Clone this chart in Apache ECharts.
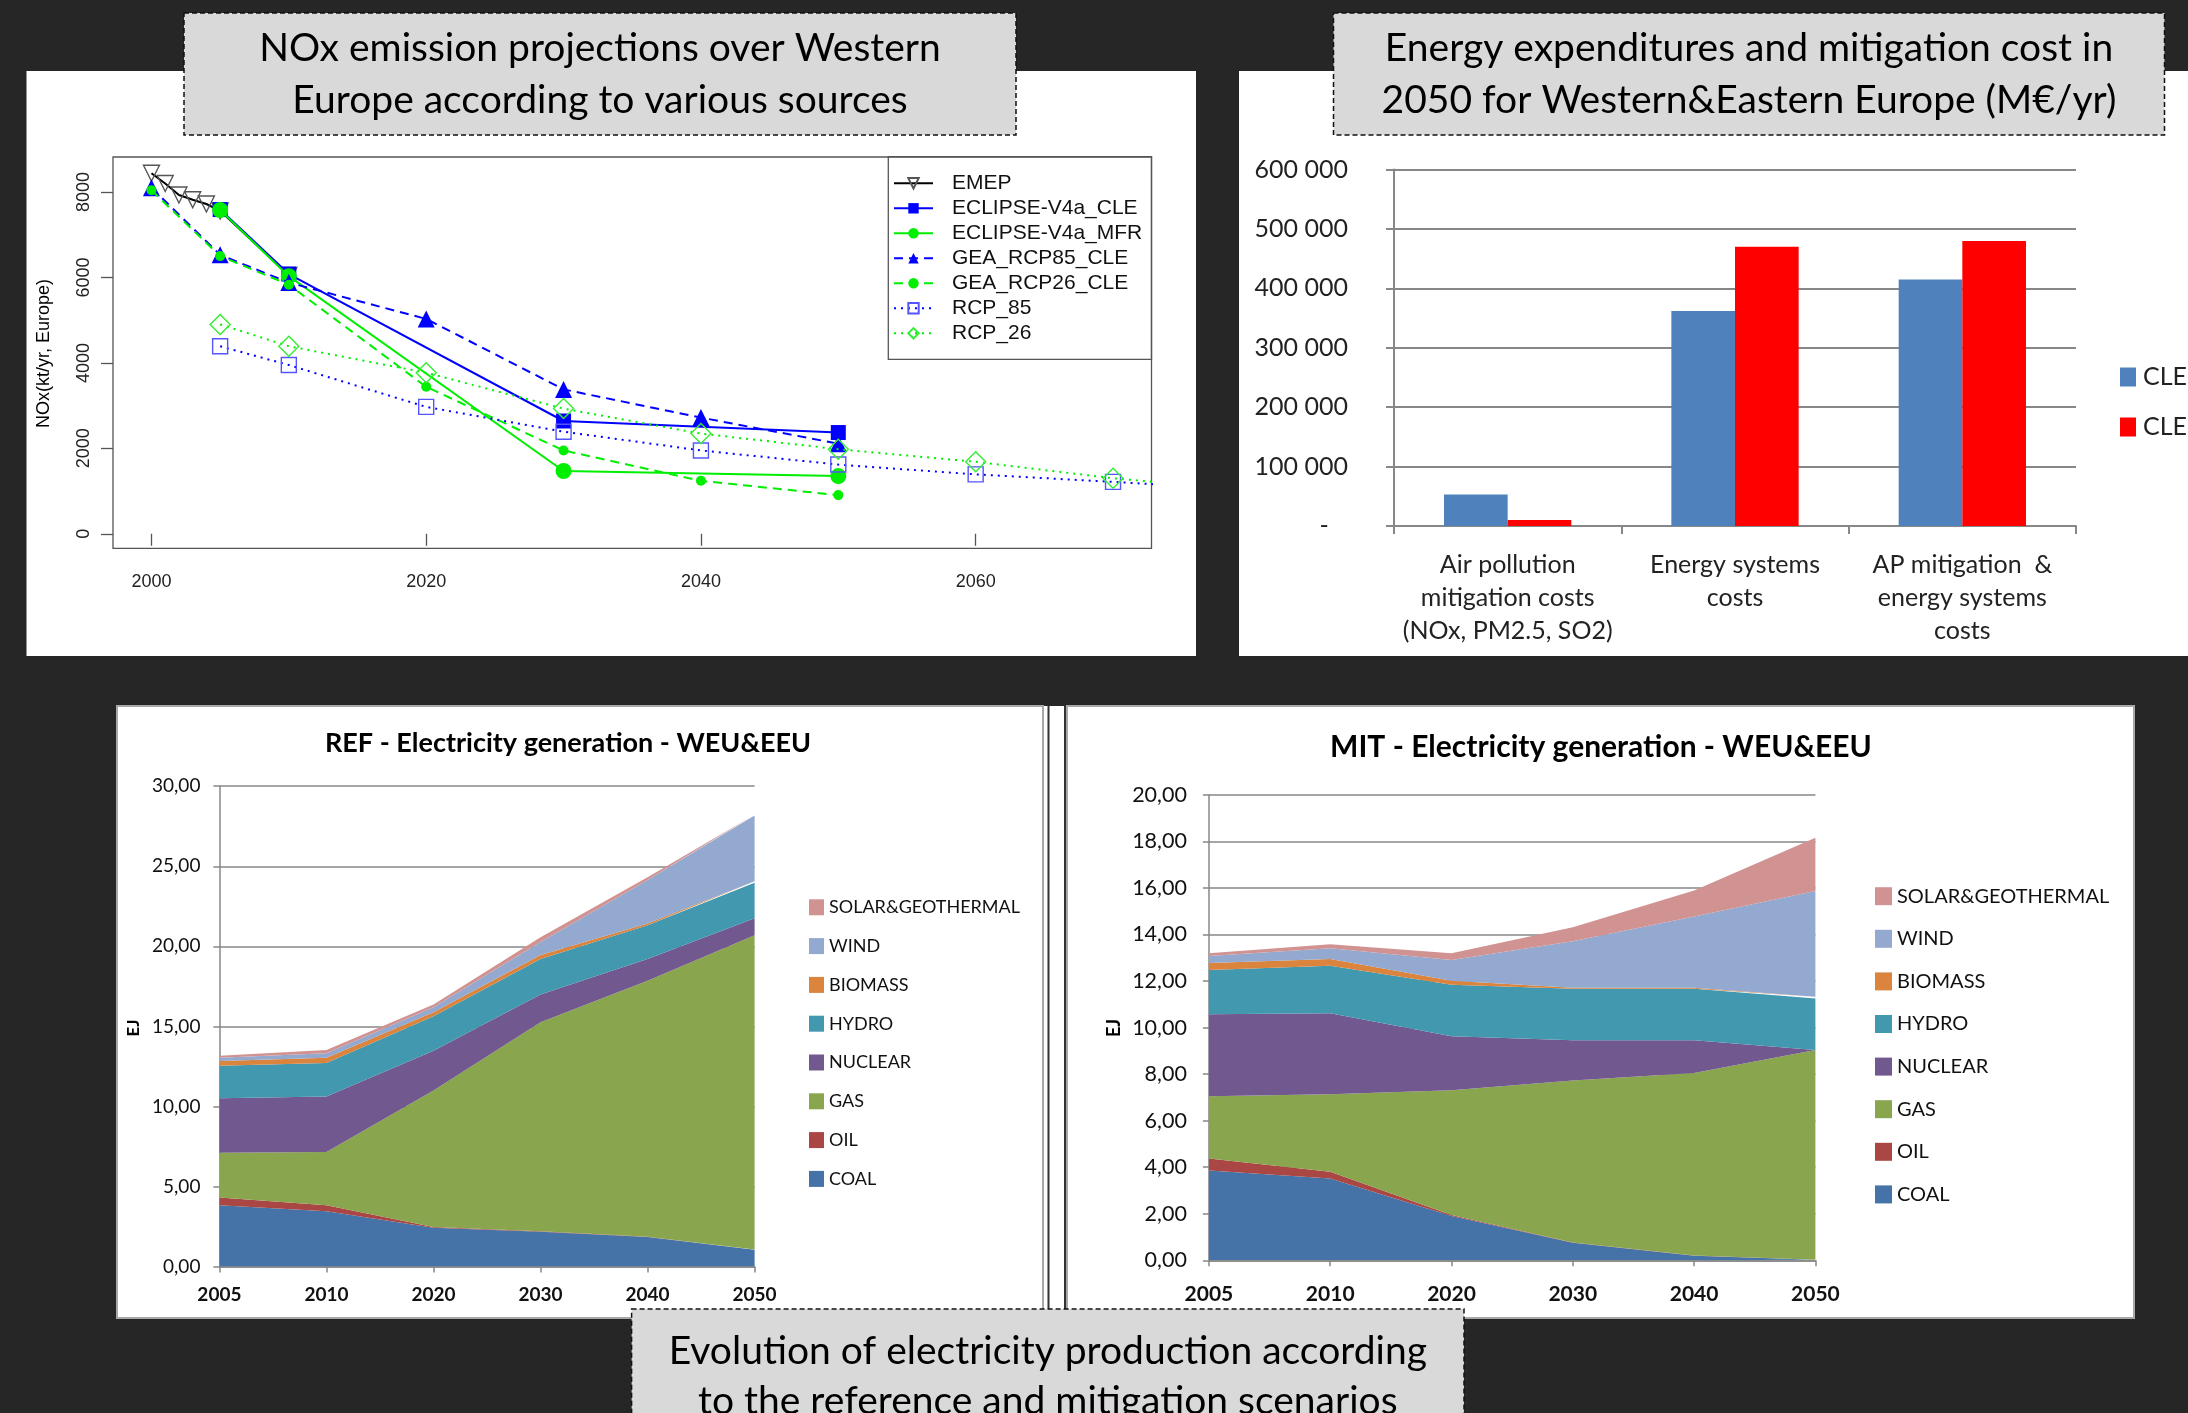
<!DOCTYPE html>
<html>
<head>
<meta charset="utf-8">
<script src="https://cdn.jsdelivr.net/npm/echarts@6/dist/echarts.min.js"></script>
<style>
  html, body { margin: 0; padding: 0; background: #262626; }
  #main { width: 2188px; height: 1413px; }
</style>
</head>
<body>
<div id="main"></div>
<script>
// ---------- NOx emission projections, Western Europe (kt/yr) ----------
const noxNames = ['EMEP', 'ECLIPSE-V4a_CLE', 'ECLIPSE-V4a_MFR', 'GEA_RCP85_CLE', 'GEA_RCP26_CLE', 'RCP_85', 'RCP_26'];
const emepYears = [2000, 2001, 2002, 2003, 2004, 2005, 2010];
const emepNox = [8440, 8200, 7930, 7820, 7720, 7560, 6050];
const eclipseYears = [2005, 2010, 2030, 2050];
const eclipseCle = [7590, 6080, 2640, 2370];
const eclipseMfr = [7580, 6030, 1470, 1350];
const geaYears = [2000, 2005, 2010, 2020, 2030, 2040, 2050];
const geaRcp85 = [8100, 6530, 5880, 5030, 3380, 2720, 2110];
const geaRcp26 = [8040, 6500, 5830, 3440, 1950, 1240, 905];
const rcpYears = [2005, 2010, 2020, 2030, 2040, 2050, 2060, 2070, 2080];
const rcp85 = [4390, 3950, 2970, 2390, 1950, 1620, 1390, 1215, 1030];
const rcp26 = [4900, 4390, 3770, 2930, 2345, 1980, 1685, 1300, 1010];
const noxTickValues = [0, 2000, 4000, 6000, 8000];
const noxYearTicks = [2000, 2020, 2040, 2060];

// ---------- Energy expenditures and mitigation cost in 2050 (M€/yr) ----------
const costCategories = ['Air pollution\nmitigation costs\n(NOx, PM2.5, SO2)', 'Energy systems\ncosts', 'AP mitigation  &\nenergy systems\ncosts'];
const costNames = ['CLE', 'CLE '];
const costCle = [53000, 362000, 415000];
const costCleMfr = [10000, 470000, 480000];

// ---------- Electricity generation, WEU&EEU (EJ) ----------
const genYears = ['2005', '2010', '2020', '2030', '2040', '2050'];
const fuelNames = ['COAL', 'OIL', 'GAS', 'NUCLEAR', 'HYDRO', 'BIOMASS', 'WIND', 'SOLAR&GEOTHERMAL'];
// reference scenario
const refCoal    = [3.83, 3.46, 2.42, 2.17, 1.85, 1.06];
const refOil     = [0.49, 0.37, 0.06, 0.03, 0.02, 0.01];
const refGas     = [2.79, 3.33, 8.51, 13.06, 15.98, 19.62];
const refNuclear = [3.41, 3.46, 2.49, 1.73, 1.36, 1.06];
const refHydro   = [2.02, 2.10, 2.15, 2.22, 2.10, 2.22];
const refBiomass = [0.30, 0.32, 0.25, 0.25, 0.12, 0.10];
const refWind    = [0.20, 0.29, 0.32, 0.81, 2.72, 4.10];
const refSolar   = [0.12, 0.20, 0.17, 0.30, 0.17, 0.05];
// mitigation scenario
const mitCoal    = [3.86, 3.52, 1.90, 0.75, 0.20, 0.02];
const mitOil     = [0.51, 0.29, 0.05, 0.02, 0.01, 0.00];
const mitGas     = [2.68, 3.33, 5.36, 6.96, 7.84, 9.02];
const mitNuclear = [3.52, 3.48, 2.32, 1.73, 1.41, 0.00];
const mitHydro   = [1.90, 2.04, 2.21, 2.21, 2.21, 2.21];
const mitBiomass = [0.31, 0.29, 0.17, 0.04, 0.04, 0.08];
const mitWind    = [0.30, 0.46, 0.90, 2.00, 3.06, 4.54];
const mitSolar   = [0.12, 0.17, 0.29, 0.60, 1.12, 2.29];

const refStack = [refCoal, refOil, refGas, refNuclear, refHydro, refBiomass, refWind, refSolar];
const mitStack = [mitCoal, mitOil, mitGas, mitNuclear, mitHydro, mitBiomass, mitWind, mitSolar];

// ---------- styling ----------
const R_FONT = 'Liberation Sans';
const XL_FONT = 'Lato';
const GRID_GRAY = '#878787';
const fuelColors = ['#4572A7', '#AA4643', '#89A54E', '#71588F', '#4198AF', '#DB843D', '#93A9CF', '#D19392'];

const noxStyles = [
  { color: '#000000', dash: 'solid', symbol: 'triangle', rotate: 180, size: 16, open: true, edge: '#555' },
  { color: '#0000ff', dash: 'solid', symbol: 'rect', size: 15 },
  { color: '#00ee00', dash: 'solid', symbol: 'circle', size: 16 },
  { color: '#0000ff', dash: [9, 6], symbol: 'triangle', size: 17 },
  { color: '#00ee00', dash: [9, 6], symbol: 'circle', size: 10 },
  { color: '#0000ff', dash: [2, 5], symbol: 'rect', size: 15, open: true, edge: '#5555ff' },
  { color: '#00ee00', dash: [2, 5], symbol: 'diamond', size: 20, open: true, edge: '#33ee33' }
];
const noxData = [
  [emepYears, emepNox], [eclipseYears, eclipseCle], [eclipseYears, eclipseMfr],
  [geaYears, geaRcp85], [geaYears, geaRcp26], [rcpYears, rcp85], [rcpYears, rcp26]
];
const pairs = (xs, ys) => xs.map((x, i) => [x, ys[i]]);

const noxSeries = noxNames.map((name, i) => {
  const s = noxStyles[i];
  return {
    type: 'line', name, xAxisIndex: 0, yAxisIndex: 0,
    data: pairs(noxData[i][0], noxData[i][1]),
    symbol: s.symbol, symbolSize: s.size, symbolRotate: s.rotate || 0,
    showAllSymbol: true, clip: true,
    lineStyle: { color: s.color, width: 2, type: s.dash },
    itemStyle: s.open
      ? { color: 'rgba(255,255,255,0)', borderColor: s.edge, borderWidth: 1.4 }
      : { color: s.color, borderWidth: 0 },
    emphasis: { disabled: true }, z: 3 + i
  };
});

const plain = v => String(v);
const thousands = v => String(v).replace(/\B(?=(\d{3})+(?!\d))/g, ' ');
const commaDec = v => v.toFixed(2).replace('.', ',');

const costSeries = [costCle, costCleMfr].map((vals, i) => ({
  type: 'bar', name: costNames[i], xAxisIndex: 1, yAxisIndex: 1, data: vals,
  barGap: '0%', barCategoryGap: '44%',
  itemStyle: { color: i === 0 ? '#4F81BD' : '#FF0000' },
  emphasis: { disabled: true }
}));

function genSeries(stack, axis, stackId) {
  return fuelNames.map((name, i) => ({
    type: 'line', name, xAxisIndex: axis, yAxisIndex: axis, stack: stackId,
    data: stack[i], symbol: 'none', showSymbol: false,
    color: fuelColors[i],
    lineStyle: { width: 0 },
    areaStyle: { color: fuelColors[i], opacity: 1 },
    emphasis: { disabled: true }
  }));
}

function genXAxis(grid, fontSize, margin) {
  return {
    type: 'category', gridIndex: grid, data: genYears, boundaryGap: false,
    axisLine: { lineStyle: { color: GRID_GRAY, width: 1.5 } },
    axisTick: { show: true, length: 6, lineStyle: { color: GRID_GRAY, width: 1.5 } },
    axisLabel: { fontFamily: XL_FONT, fontWeight: 'bold', fontSize, color: '#111', margin, interval: 0 },
    splitLine: { show: false }
  };
}
function genYAxis(grid, max, interval, fontSize, margin) {
  return {
    type: 'value', gridIndex: grid, min: 0, max, interval,
    axisLine: { show: true, lineStyle: { color: GRID_GRAY, width: 1.5 } },
    axisTick: { show: true, length: 6, lineStyle: { color: GRID_GRAY, width: 1.5 } },
    axisLabel: { fontFamily: XL_FONT, fontSize, color: '#111', margin, formatter: commaDec },
    splitLine: { show: true, lineStyle: { color: GRID_GRAY, width: 1.5 } }
  };
}
function genLegend(left, top, boxW, boxH, fontSize, gap) {
  return {
    orient: 'vertical', left, top, padding: 0, icon: 'rect',
    itemWidth: boxW, itemHeight: boxH, itemGap: gap, selectedMode: false,
    data: fuelNames.slice().reverse(),
    textStyle: { fontFamily: XL_FONT, fontSize, color: '#111', lineHeight: fontSize + 1 }
  };
}

// ---------- decorations ----------
const graphics = [];
function rect(x, y, w, h, fill, stroke, z, lineWidth) {
  graphics.push({ type: 'rect', shape: { x, y, width: w, height: h }, z: z || -5, silent: true,
    style: { fill, stroke: stroke || null, lineWidth: lineWidth || 0 } });
}
function vline(x, y1, y2, color, w) {
  graphics.push({ type: 'line', shape: { x1: x, y1, x2: x, y2 }, z: -4, silent: true,
    style: { stroke: color, lineWidth: w } });
}
function text(str, x, y, font, opts) {
  graphics.push(Object.assign({ type: 'text', x, y, z: 60, silent: true,
    style: { text: str, font, fill: '#000', align: 'center', verticalAlign: 'middle' } }, opts || {}));
}
function titleBox(x, y, w, h, lines, lineYs) {
  graphics.push({ type: 'rect', shape: { x, y, width: w, height: h }, z: 50, silent: true,
    style: { fill: '#d9d9d9', stroke: '#111', lineWidth: 1.5, lineDash: [5, 3] } });
  lines.forEach((ln, i) => text(ln, x + w / 2, lineYs[i], '39px ' + XL_FONT));
}

// panels
rect(26.5, 71, 1169.5, 585, '#ffffff');
rect(1239, 71, 949, 585, '#ffffff');
rect(1043, 706, 24, 612, '#ffffff');
rect(117, 706, 926, 612, '#ffffff', '#a8a8a8', -5, 2);
rect(1067, 706, 1067, 612, '#ffffff', '#a8a8a8', -5, 2);
vline(1048.5, 706, 1318, '#333', 2);
vline(1065, 706, 1318, '#333', 2);

// title boxes
titleBox(184, 13, 832, 122, ['NOx emission projections over Western', 'Europe according to various sources'], [48, 100]);
titleBox(1333.5, 13, 831, 122, ['Energy expenditures and mitigation cost in', '2050 for Western&Eastern Europe (M€/yr)'], [48, 100]);
titleBox(631.6, 1309, 832.4, 120, ['Evolution of electricity production according', 'to the reference and mitigation scenarios'], [1351, 1401]);

// NOx legend frame and axis title
graphics.push({ type: 'rect', shape: { x: 888.3, y: 156.7, width: 263.2, height: 202.6 }, z: 10, silent: true,
  style: { fill: 'rgba(255,255,255,0)', stroke: '#555', lineWidth: 1.3 } });
text('NOx(kt/yr, Europe)', 44, 353.5, '18px ' + R_FONT, { rotation: Math.PI / 2 });

// electricity chart titles and axis names
text('REF - Electricity generation - WEU&EEU', 568, 743.5, 'bold 27px ' + XL_FONT);
text('MIT - Electricity generation - WEU&EEU', 1601, 747.5, 'bold 30px ' + XL_FONT);
text('EJ', 134, 1028, 'bold 17px ' + XL_FONT, { rotation: Math.PI / 2 });
text('EJ', 1114, 1028, 'bold 18px ' + XL_FONT, { rotation: Math.PI / 2 });

const option = {
  backgroundColor: '#262626',
  animation: false,
  tooltip: { show: false },
  graphic: { elements: graphics },
  grid: [
    { left: 113, top: 157, width: 1038.5, height: 391.3, show: true, borderColor: '#555', borderWidth: 1.3, backgroundColor: 'rgba(0,0,0,0)' },
    { left: 1394, top: 169.6, width: 682, height: 356.4 },
    { left: 219.4, top: 786.2, width: 535.2, height: 480.4 },
    { left: 1208.9, top: 794.9, width: 606.5, height: 465.4 }
  ],
  xAxis: [
    {
      type: 'value', gridIndex: 0, min: 1997.2, max: 2072.8,
      axisLine: { show: false },
      axisTick: { show: true, length: 12, customValues: noxYearTicks, lineStyle: { color: '#555', width: 1.3 } },
      axisLabel: { customValues: noxYearTicks, formatter: plain, fontFamily: R_FONT, fontSize: 18, color: '#222', margin: 25 },
      splitLine: { show: false }
    },
    {
      type: 'category', gridIndex: 1, data: costCategories,
      axisLine: { lineStyle: { color: GRID_GRAY, width: 2 } },
      axisTick: { show: true, length: 8, interval: 0, lineStyle: { color: GRID_GRAY, width: 2 } },
      axisLabel: { interval: 0, fontFamily: XL_FONT, fontSize: 25, lineHeight: 33, color: '#222', margin: 22 }
    },
    genXAxis(2, 19, 19),
    genXAxis(3, 21, 23)
  ],
  yAxis: [
    {
      type: 'value', gridIndex: 0, min: -340, max: 8820,
      axisLine: { show: false },
      axisTick: { show: true, length: 12, customValues: noxTickValues, lineStyle: { color: '#555', width: 1.3 } },
      axisLabel: { customValues: noxTickValues, formatter: plain, rotate: 90, fontFamily: R_FONT, fontSize: 18, color: '#222', margin: 20 },
      splitLine: { show: false }
    },
    {
      type: 'value', gridIndex: 1, min: 0, max: 600000, interval: 100000,
      axisLine: { show: true, lineStyle: { color: GRID_GRAY, width: 2 } },
      axisTick: { show: true, length: 8, lineStyle: { color: GRID_GRAY, width: 2 } },
      axisLabel: { fontFamily: XL_FONT, fontSize: 25, color: '#222', margin: 46,
        formatter: v => (v === 0 ? '-   ' : thousands(v)) },
      splitLine: { show: true, lineStyle: { color: GRID_GRAY, width: 2 } }
    },
    genYAxis(2, 30, 5, 19, 19),
    genYAxis(3, 20, 2, 21.5, 22)
  ],
  legend: [
    {
      orient: 'vertical', left: 893, top: 172.8, padding: 0, itemWidth: 39, itemHeight: 13, itemGap: 4,
      selectedMode: false, data: noxNames,
      textStyle: { fontFamily: R_FONT, fontSize: 21, color: '#111', lineHeight: 21, padding: [0, 0, 0, 14] }
    },
    {
      orient: 'vertical', left: 2120, top: 364, padding: 0, icon: 'rect', itemWidth: 16, itemHeight: 19,
      itemGap: 24, selectedMode: false, data: costNames,
      textStyle: { fontFamily: XL_FONT, fontSize: 25, color: '#222', lineHeight: 26, padding: [0, 0, 0, 2] }
    },
    genLegend(809, 897.8, 15, 16, 18, 19.8),
    genLegend(1875, 885.7, 17, 18, 20, 21.6)
  ],
  series: [
    ...noxSeries,
    ...costSeries,
    ...genSeries(refStack, 2, 'ref'),
    ...genSeries(mitStack, 3, 'mit')
  ]
};

const chart = echarts.init(document.getElementById('main'), null, { renderer: 'canvas', width: 2188, height: 1413 });
chart.setOption(option);
</script>
</body>
</html>
